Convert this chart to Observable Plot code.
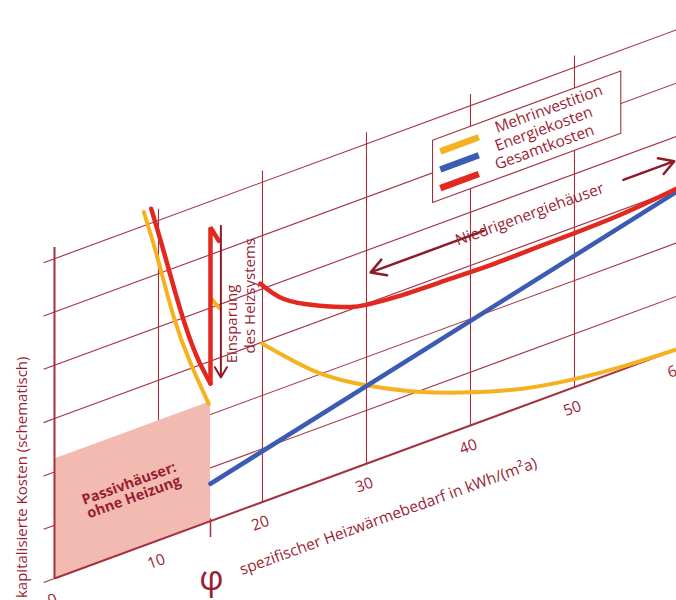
<!DOCTYPE html>
<html><head><meta charset="utf-8">
<script src="https://cdn.jsdelivr.net/npm/d3@7"></script>
<script src="https://cdn.jsdelivr.net/npm/@observablehq/plot@0.6"></script>
<style>html,body{margin:0;padding:0;background:#fff;overflow:hidden}</style>
</head><body><div id="chart"></div>
<script>
// ---- data (x = Heizwärmebedarf kWh/(m²a), v = Kosten in Gitterstufen, schematisch) ----
const xTicks = [0, 10, 20, 30, 40, 50, 60];
const gridLevels = [0, 1, 2, 3, 4, 5, 6];
const mehrLeft = [{x:8.59,v:6.26},{x:9.88,v:5.32},{x:11.47,v:4.08},{x:13.08,v:3.10},{x:14.84,v:2.21}];
const mehrJump = [{x:15,v:4.19},{x:15.87,v:3.93}];
const mehrRight = [{x:20,v:2.97},{x:25.3,v:2.05},{x:30.1,v:1.46},{x:34.9,v:1.0},{x:40,v:0.62},{x:45,v:0.33},{x:50,v:0.15},{x:55,v:0.05},{x:60,v:0.0}];
const energie = [{x:15,v:0.70},{x:60,v:2.97}];
const gesamtLeft = [{x:9.3,v:6.27},{x:10.48,v:5.40},{x:12.12,v:4.16},{x:13.65,v:3.20},{x:15,v:2.58}];
const gesamtJump = [{x:15,v:2.58},{x:15,v:5.51},{x:15.8,v:5.2}];
const gesamtRight = [{x:19.8,v:4.11},{x:22.05,v:3.66},{x:25.26,v:3.31},{x:28.46,v:3.05},{x:30.07,v:2.98},{x:33.27,v:2.92},{x:38.08,v:2.89},{x:42,v:2.87},{x:46,v:2.88},{x:50,v:2.89},{x:54.7,v:2.92},{x:60,v:3.02}];
const passivZone = [{x:0,top:2.24},{x:15,top:2.24}];
const legendLabels = ["Mehrinvestition", "Energiekosten", "Gesamtkosten"];
const legendColors = ["#f5b120", "#3b5cb2", "#e3281f"];
const legendLevels = [5.35, 5.01, 4.66];
const legendBox = [{x:36.4,lo:4.43,hi:5.6},{x:54.5,lo:4.43,hi:5.6}];
const arrowsNE = [{x1:41.3,v1:3.56,x2:30.4,v2:3.56},{x1:54.7,v1:3.55,x2:59.6,v2:3.55}];
const arrowSaving = [{x1:16.0,v1:5.47,x2:16.0,v2:2.62}];
const labels = [
  {x:45.7, v:3.55, text:"Niedrigenergiehäuser", size:15.5, weight:500, rot:-20, anchor:"middle"},
  {x:7.4, v:1.12, text:"Passivhäuser:\nohne Heizung", size:14.5, weight:"bold", rot:-20, anchor:"middle"},
  {x:32.1, v:-1.14, text:"spezifischer Heizwärmebedarf in kWh/(m²a)", size:15.5, weight:500, rot:-20, anchor:"middle"},
  {x:15.1, v:-1.09, text:"φ", size:34, weight:500, rot:0, anchor:"middle"}
];
const vLabels = [
  {x:-3.08, v:2.12, text:"kapitalisierte Kosten (schematisch)", size:15, anchor:"middle"},
  {x:17.1, v:2.81, text:"Einsparung", size:15, anchor:"start"},
  {x:18.8, v:2.87, text:"des Heizsystems", size:15, anchor:"start"}
];

// ---- shear of the oblique grid ----
const S = 0.0718;
const Y = d => d.v + S * d.x;
const GRID = "#a33140";
const TXT = "#9a1e33";

const chart = Plot.plot({
  width: 676, height: 600, margin: 0,
  x: {domain: [-5.192, 59.81], axis: null},
  y: {domain: [-0.4128, 10.844], axis: null},
  style: {background: "white", fontFamily: "'Open Sans', 'Noto Sans', sans-serif"},
  marks: [
    // oblique horizontal grid lines
    Plot.link(gridLevels.filter(l => l > 0), {x1: 0, y1: l => l, x2: 62, y2: l => l + S * 62, stroke: GRID, strokeWidth: 1.1}),
    // left axis ticks
    Plot.link(gridLevels, {x1: -1.05, y1: l => l - S * 1.05, x2: 0, y2: l => l, stroke: GRID, strokeWidth: 1.1}),
    // vertical grid lines
    Plot.link(xTicks.filter(t => t > 0), {x1: t => t, x2: t => t, y1: t => S * t, y2: t => 6.22 + S * t, stroke: GRID, strokeWidth: 1.1}),
    // Passivhaus zone
    Plot.areaY(passivZone, {x: "x", y1: d => S * d.x, y2: d => d.top + S * d.x, fill: "#f3bab2", curve: "linear"}),
    // axes (drawn above zone)
    Plot.link([0], {x1: 0, y1: 0, x2: 62, y2: S * 62, stroke: GRID, strokeWidth: 2}),
    Plot.link([0], {x1: 0, x2: 0, y1: 0, y2: 6.22, stroke: GRID, strokeWidth: 2}),
    Plot.link([15], {x1: t => t, x2: t => t, y1: t => S * t - 0.3, y2: t => S * t + 0.05, stroke: GRID, strokeWidth: 1.5}),
    // legend box
    Plot.areaY(legendBox, {x: "x", y1: d => d.lo + S * d.x, y2: d => d.hi + S * d.x, fill: "white", stroke: GRID, strokeWidth: 1.1, curve: "linear"}),
    Plot.link(legendLevels, {x1: 37.1, x2: 40.8, y1: (l) => l + S * 37.1, y2: l => l + S * 40.8, stroke: (l, i) => legendColors[i], strokeWidth: 6.5}),
    Plot.text(legendLabels, {x: 42.4, y: (t, i) => legendLevels[i] + 0.05 + S * 42.4, text: d => d, rotate: -20, textAnchor: "start", lineAnchor: "middle", fontSize: 15.5, fontWeight: 500, fill: TXT}),
    // curves
    Plot.line(mehrLeft, {x: "x", y: Y, stroke: "#f5b120", strokeWidth: 4, curve: "natural"}),
    Plot.line(mehrJump, {x: "x", y: Y, stroke: "#f5b120", strokeWidth: 4}),
    Plot.line(mehrRight, {x: "x", y: Y, stroke: "#f5b120", strokeWidth: 4, curve: "natural"}),
    Plot.line(energie, {x: "x", y: Y, stroke: "#3b5cb2", strokeWidth: 4.5}),
    Plot.line(gesamtLeft, {x: "x", y: Y, stroke: "#e3281f", strokeWidth: 4.5, curve: "natural"}),
    Plot.line(gesamtJump, {x: "x", y: Y, stroke: "#e3281f", strokeWidth: 4.5, strokeLinejoin: "miter"}),
    Plot.line(gesamtRight, {x: "x", y: Y, stroke: "#e3281f", strokeWidth: 4.5, curve: "natural"}),
    // arrows
    Plot.arrow(arrowsNE, {x1: "x1", x2: "x2", y1: d => d.v1 + S * d.x1, y2: d => d.v2 + S * d.x2, stroke: "#8e1b2b", strokeWidth: 2.5, headLength: 10}),
    Plot.arrow(arrowSaving, {x1: "x1", x2: "x2", y1: d => d.v1 + S * d.x1, y2: d => d.v2 + S * d.x2, stroke: "#8e1b2b", strokeWidth: 2, headLength: 9}),
    // tick labels
    Plot.text(xTicks, {x: t => t - 0.2, y: t => -0.40 + S * t, text: d => String(d), rotate: -20, fontSize: 15.5, fontWeight: 500, fill: TXT}),
    // texts
    ...labels.map(l => Plot.text([l], {x: "x", y: Y, text: "text", rotate: l.rot, fontSize: l.size, fontWeight: l.weight, textAnchor: l.anchor, lineAnchor: "middle", fill: TXT})),
    ...vLabels.map(l => Plot.text([l], {x: "x", y: Y, text: "text", rotate: -90, fontSize: l.size, fontWeight: 500, textAnchor: l.anchor, lineAnchor: "middle", fill: TXT}))
  ]
});
document.getElementById("chart").appendChild(chart);
</script>
</body></html>
